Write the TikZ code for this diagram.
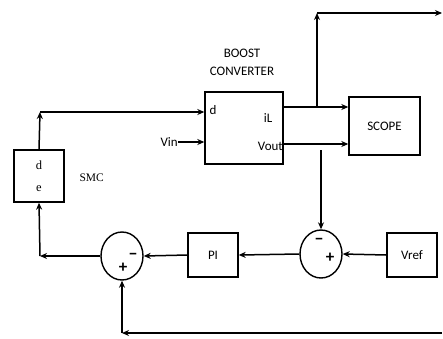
\documentclass[tikz,border=0pt]{standalone}
\usepackage{fontspec}
\setmainfont{Carlito}
\newfontfamily\smcfont{Liberation Serif}
\usepackage{tikz}
\usetikzlibrary{shapes.geometric, arrows.meta, positioning, calc}

\begin{document}
\begin{tikzpicture}[
    x=1pt, y=-1pt,
    block/.style={draw, line width=1.4pt, minimum width=#1, inner sep=0pt},
    sumnode/.style={draw, ellipse, line width=1.4pt, minimum width=42pt,
                    minimum height=48pt, inner sep=0pt},
    lbl/.style={font=\fontsize{13}{15}\selectfont, inner sep=0pt},
    sign/.style={font=\fontsize{17}{17}\selectfont\bfseries, inner sep=0pt},
    conn/.style={-{Stealth[length=7pt, width=6pt]}, line width=1.5pt},
]
    \useasboundingbox (0,0) rectangle (443,338);

    % Plant: boost converter and scope
    \node[block=78pt, minimum height=72pt] (boost) at (244,128) {};
    \node[lbl, align=center] (title) at (242,62) {BOOST\\[3pt]CONVERTER};
    \node[lbl] (dlbl) at (213,110) {d};
    \node[lbl] (illbl) at (268,118) {iL};
    \node[lbl, anchor=east] (voutlbl) at (283,146) {Vout};
    \node[block=71pt, minimum height=58pt, lbl] (scope) at (384.5,126) {SCOPE};

    % Controller: SMC block
    \node[block=50pt, minimum height=52pt] (smc) at (39,176) {};
    \node[font=\smcfont\fontsize{12.5}{14}\selectfont] (smcd) at (39,165) {d};
    \node[font=\smcfont\fontsize{12.5}{14}\selectfont] (smce) at (39,189) {e};
    \node[font=\smcfont\fontsize{11.5}{14}\selectfont, anchor=west] (smclbl) at (76,178) {SMC};

    % Voltage loop: reference, comparator, PI, current comparator
    \node[block=50pt, minimum height=44pt, lbl] (vref) at (412,255) {Vref};
    \node[sumnode] (sumv) at (321,254) {};
    \node[sign] (sumvminus) at (319,241) {−};
    \node[sign] (sumvplus) at (330,258) {+};
    \node[block=50pt, minimum height=44pt, lbl] (pi) at (213,255) {PI};
    \node[sumnode] (sumi) at (122,256) {};
    \node[sign] (sumiminus) at (133,256) {−};
    \node[sign] (sumiplus) at (123,268) {+};

    % Input and coordinates
    \node[lbl, anchor=east] (vin) at (178,142) {Vin};
    \coordinate (dcorner) at (40,112);
    \coordinate (iltap) at (317,107);
    \coordinate (iltop) at (317,13);
    \coordinate (ilout) at (442,13);
    \coordinate (vouttap) at (321,150);
    \coordinate (ecorner) at (40,256);
    \coordinate (fbin) at (442,333);
    \coordinate (fbcorner) at (122,333);

    % Connections
    \draw[conn] (smc.north) -- (dcorner);
    \draw[conn] (dcorner) -- (boost.west |- dcorner);
    \draw[conn] (vin.east) -- (boost.west |- vin.east);
    \draw[conn] (boost.east |- iltap) -- (scope.west |- iltap);
    \draw[conn] (boost.east |- 0,144) -- (scope.west |- 0,144);
    \draw[conn] (iltap) -- (iltop);
    \draw[conn] (iltop) -- (ilout);
    \draw[conn] (vouttap) -- (sumv.north);
    \draw[conn] (vref.west) -- (sumv.east);
    \draw[conn] (sumv.west) -- (pi.east);
    \draw[conn] (pi.west) -- (sumi.east);
    \draw[conn] (sumi.west) -- (ecorner);
    \draw[conn] (ecorner) -- (smc.south);
    \draw[conn] (fbin) -- (fbcorner);
    \draw[conn] (fbcorner) -- (sumi.south);
\end{tikzpicture}
\end{document}
